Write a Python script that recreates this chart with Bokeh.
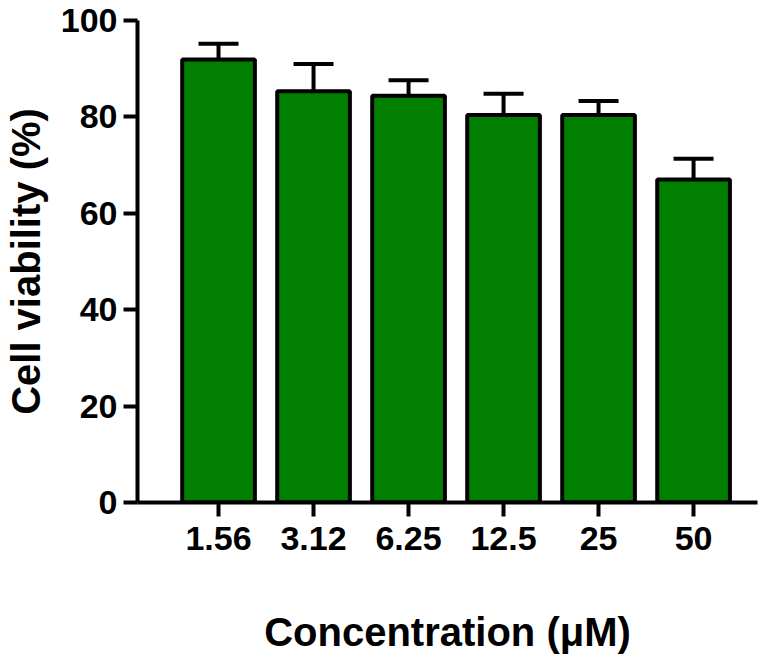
from bokeh.plotting import figure
from bokeh.models import ColumnDataSource, Whisker, TeeHead, FixedTicker, Range1d
from bokeh.embed import file_html
from bokeh.resources import INLINE

# Data
concentrations = ["1.56", "3.12", "6.25", "12.5", "25", "50"]
viability = [91.9, 85.3, 84.4, 80.4, 80.4, 67.0]
sd = [3.3, 5.7, 3.2, 4.4, 2.9, 4.3]
y_ticks = [0, 20, 40, 60, 80, 100]

xpos = list(range(len(concentrations)))
upper = [v + e for v, e in zip(viability, sd)]
src = ColumnDataSource(dict(x=xpos, top=viability, lower=viability, upper=upper))

FONT = "Liberation Sans"

p = figure(width=780, height=656, output_backend="svg", toolbar_location=None,
           x_range=Range1d(-0.853, 5.673), y_range=Range1d(0, 100),
           min_border_left=120, min_border_right=23, min_border_top=20,
           min_border_bottom=120)
p.outline_line_color = None
p.xgrid.visible = False
p.ygrid.visible = False
p.background_fill_color = "white"
p.border_fill_color = "white"

p.vbar(x="x", top="top", bottom=0, width=0.765, source=src,
       fill_color="#007f00", line_color="black", line_width=4)

w = Whisker(base="x", lower="lower", upper="upper", source=src,
            upper_head=TeeHead(size=40, line_width=4, line_color="black"),
            lower_head=None, line_width=4, line_color="black", level="overlay")
p.add_layout(w)

for ax in (p.xaxis[0], p.yaxis[0]):
    ax.axis_line_width = 4
    ax.axis_line_color = "black"
    ax.major_tick_line_width = 4
    ax.major_tick_line_color = "black"
    ax.major_tick_out = 14
    ax.major_tick_in = 0
    ax.minor_tick_line_color = None
    ax.major_label_text_font = FONT
    ax.major_label_text_font_style = "bold"
    ax.major_label_text_font_size = "34px"
    ax.major_label_text_color = "black"
    ax.axis_label_text_font = FONT
    ax.axis_label_text_font_style = "bold"
    ax.axis_label_text_font_size = "40px"
    ax.axis_label_text_color = "black"

p.xaxis.ticker = FixedTicker(ticks=xpos)
p.xaxis.major_label_overrides = {i: c for i, c in enumerate(concentrations)}
p.xaxis.major_label_standoff = 10
p.xaxis.axis_label = "Concentration (μM)"
p.xaxis.axis_label_standoff = 57

p.yaxis.ticker = FixedTicker(ticks=y_ticks)
p.yaxis.major_label_standoff = 6
p.yaxis.axis_label = "Cell viability (%)"
p.yaxis.axis_label_standoff = 10

open("out.html", "w").write(file_html(p, INLINE))
